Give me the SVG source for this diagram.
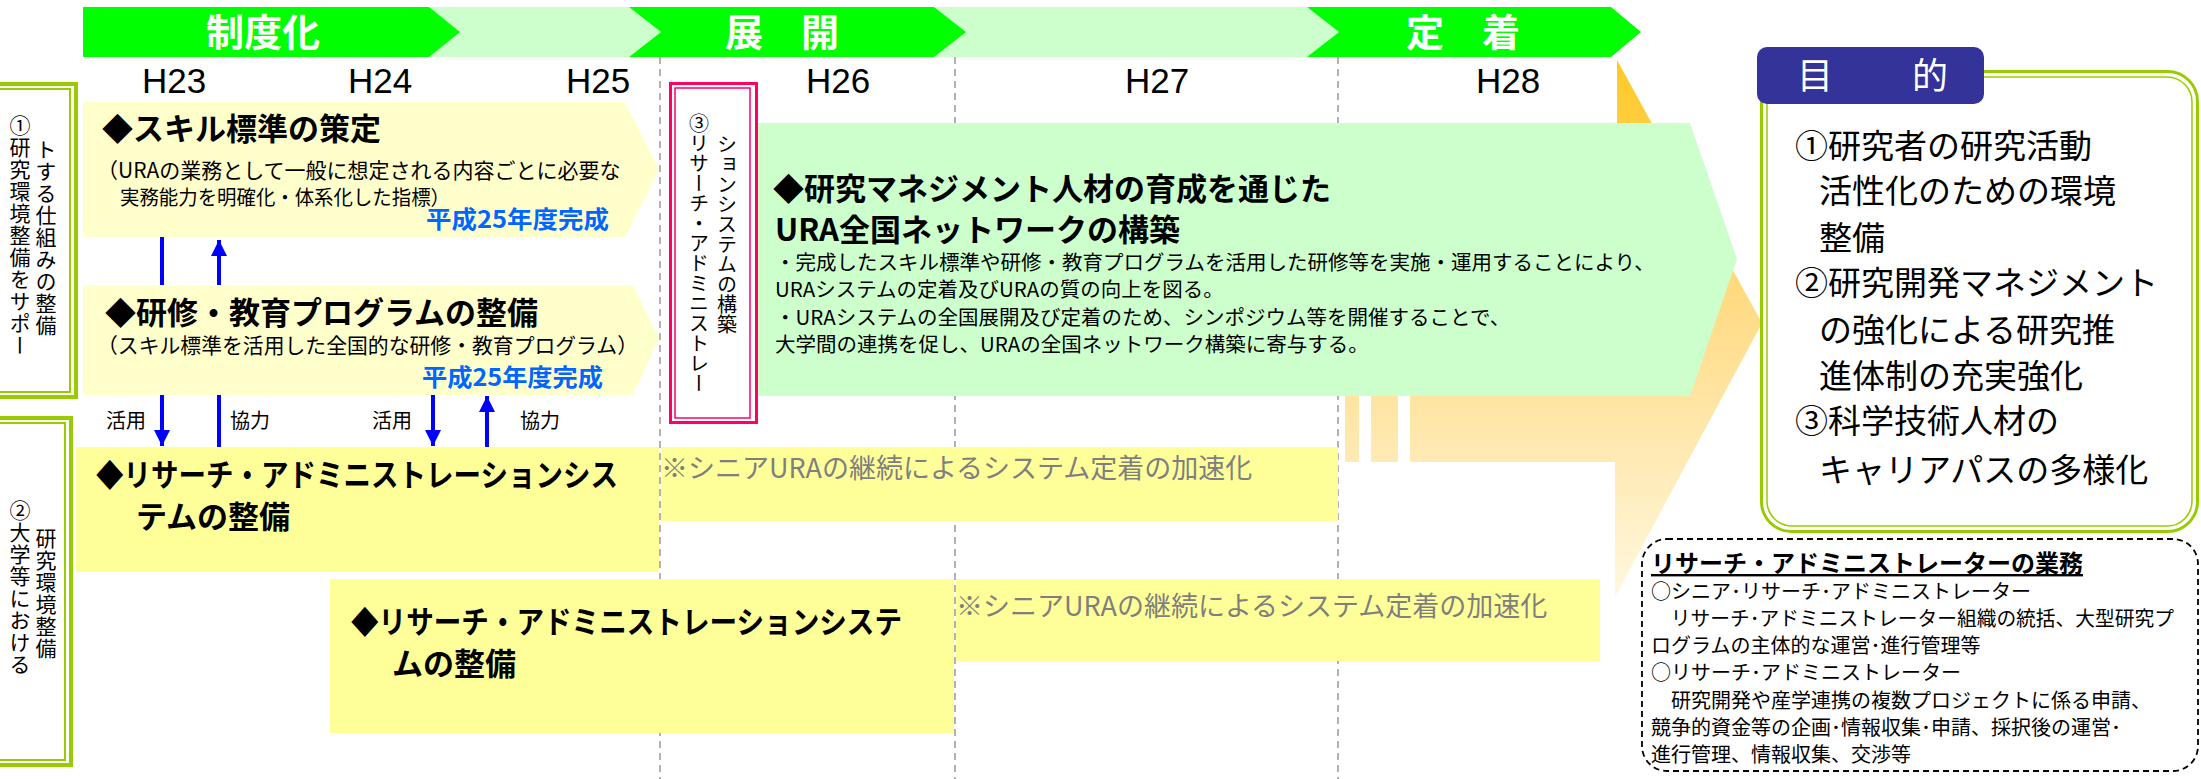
<svg xmlns="http://www.w3.org/2000/svg" width="2201" height="779" viewBox="0 0 2201 779">
<style>
.jp{font-family:"Noto Sans CJK JP","Noto Sans CJK SC",sans-serif;fill:#000;}
.b{font-weight:bold;}
.yr{font-family:"Liberation Sans",Arial,sans-serif;font-size:35px;fill:#000;text-anchor:middle;}
.ban{font-family:"Noto Sans CJK JP",sans-serif;font-weight:bold;font-size:38px;fill:#fff;text-anchor:middle;}
.dl{stroke:#999;stroke-width:1.5;stroke-dasharray:7 5;fill:none;}
.bl{stroke:#0000FF;stroke-width:4;fill:none;}
.vt{writing-mode:vertical-rl;font-family:"Noto Sans CJK JP",sans-serif;font-size:21px;letter-spacing:1px;fill:#000;}
.vt3{writing-mode:vertical-rl;font-family:"Noto Sans CJK JP",sans-serif;font-size:20px;fill:#000;}
.t31{font-size:31px;font-weight:bold;}
.t21{font-size:21px;}
.t20{font-size:20.5px;}
.done{font-size:24px;font-weight:bold;fill:#0066FF;}
.gray{font-size:27px;fill:#7F7F7F;}
.pg{font-size:33px;}
.db{font-size:20px;}
.gb{fill:none;stroke:#99CC00;}
.pk{fill:none;stroke:#FF0066;}
.ly{fill:#FFFFCC;}
.yy{fill:#FFFF99;}
.lbl{font-size:20px;}
</style>
<defs>
<linearGradient id="og" gradientUnits="userSpaceOnUse" x1="0" y1="60" x2="0" y2="600">
<stop offset="0" stop-color="#FFC926"/>
<stop offset="0.45" stop-color="#FFDB85"/>
<stop offset="1" stop-color="#FFF8E0"/>
</linearGradient>
<marker id="ah" viewBox="0 0 16 16" refX="16" refY="8" markerWidth="16" markerHeight="16" markerUnits="userSpaceOnUse" orient="auto">
<path d="M0,0 L16,8 L0,16 Z" fill="#0000FF"/>
</marker>
</defs>
<rect x="0" y="0" width="2201" height="779" fill="#fff"/>

<g id="banner">
<polygon points="429,7 629,7 661,32 629,57 429,57 460,32" fill="#CCFFCC"/>
<polygon points="934,7 1307,7 1339,32 1307,57 934,57 966,32" fill="#CCFFCC"/>
<polygon points="83,7 429,7 460,32 429,57 83,57" fill="#00FF00"/>
<polygon points="629,7 934,7 966,32 934,57 629,57 661,32" fill="#00FF00"/>
<polygon points="1307,7 1611,7 1641,32 1611,57 1307,57 1339,32" fill="#00FF00"/>
<text class="ban" x="263" y="46">制度化</text>
<text class="ban" x="782" y="46">展　開</text>
<text class="ban" x="1463" y="46">定　着</text>
</g>

<g id="years">
<text class="yr" x="174" y="93">H23</text>
<text class="yr" x="380" y="93">H24</text>
<text class="yr" x="598" y="93">H25</text>
<text class="yr" x="838" y="93">H26</text>
<text class="yr" x="1157" y="93">H27</text>
<text class="yr" x="1508" y="93">H28</text>
</g>

<g id="gridlines">
<line class="dl" x1="660" y1="57" x2="660" y2="779"/>
<line class="dl" x1="955" y1="57" x2="955" y2="779"/>
<line class="dl" x1="1338" y1="57" x2="1338" y2="779"/>
</g>

<g id="big-arrow">
<path d="M1410,200 H1617 V60 L1762,323 L1615,597 V462 H1410 Z" fill="url(#og)"/>
<rect x="1345" y="200" width="14" height="262" fill="url(#og)"/>
<rect x="1371" y="200" width="27" height="262" fill="url(#og)"/>
</g>

<g id="skill-standard">
<polygon class="ly" points="83,102 625,102 659,170 625,237 83,237"/>
<text class="jp t31" x="102" y="140">◆スキル標準の策定</text>
<text class="jp t21" x="97" y="178">（URAの業務として一般に想定される内容ごとに必要な</text>
<text class="jp" x="120" y="205" font-size="20" textLength="330" lengthAdjust="spacingAndGlyphs">実務能力を明確化・体系化した指標）</text>
<text class="jp done" x="426" y="228" textLength="183" lengthAdjust="spacingAndGlyphs">平成25年度完成</text>
</g>

<g id="training-program">
<polygon class="ly" points="83,285 633,285 659,338 633,395 83,395"/>
<text class="jp t31" x="105" y="324">◆研修・教育プログラムの整備</text>
<text class="jp t21" x="97" y="353" textLength="541" lengthAdjust="spacingAndGlyphs">（スキル標準を活用した全国的な研修・教育プログラム）</text>
<text class="jp done" x="422" y="386" textLength="181" lengthAdjust="spacingAndGlyphs">平成25年度完成</text>
</g>

<g id="ra-system-1">
<rect class="yy" x="76" y="447" width="583" height="125"/>
<rect class="yy" x="661" y="447" width="677" height="74"/>
<text class="jp t31" x="96" y="486" textLength="522" lengthAdjust="spacingAndGlyphs">◆リサーチ・アドミニストレーションシス</text>
<text class="jp t31" x="136" y="528">テムの整備</text>
<text class="jp gray" x="661" y="478">※シニアURAの継続によるシステム定着の加速化</text>
</g>

<g id="ra-system-2">
<rect class="yy" x="330" y="579" width="624" height="154"/>
<rect class="yy" x="956" y="579" width="644" height="82"/>
<text class="jp t31" x="351" y="633" textLength="551" lengthAdjust="spacingAndGlyphs">◆リサーチ・アドミニストレーションシステ</text>
<text class="jp t31" x="392" y="675">ムの整備</text>
<text class="jp gray" x="956" y="616">※シニアURAの継続によるシステム定着の加速化</text>
</g>

<g id="network">
<polygon points="758,123 1690,123 1737,259 1690,396 758,396" fill="#CCFFCC"/>
<text class="jp t31" x="773" y="200">◆研究マネジメント人材の育成を通じた</text>
<text class="jp t31" x="775" y="241">URA全国ネットワークの構築</text>
<text class="jp t20" x="775" y="270">・完成したスキル標準や研修・教育プログラムを活用した研修等を実施・運用することにより、</text>
<text class="jp t20" x="775" y="297">URAシステムの定着及びURAの質の向上を図る。</text>
<text class="jp t20" x="775" y="325">・URAシステムの全国展開及び定着のため、シンポジウム等を開催することで、</text>
<text class="jp t20" x="775" y="352">大学間の連携を促し、URAの全国ネットワーク構築に寄与する。</text>
</g>

<g id="label-3">
<rect x="670" y="83" width="87" height="340" fill="#fff"/>
<rect class="pk" x="670.5" y="83.5" width="86" height="339" stroke-width="3"/>
<rect class="pk" x="675" y="88" width="75" height="330" stroke-width="1.5"/>
<text class="vt3" x="699" y="113">③リサーチ・アドミニストレー</text>
<text class="vt3" x="727" y="134">ションシステムの構築</text>
</g>

<g id="label-1">
<rect class="gb" x="-10" y="84" width="86" height="313" stroke-width="4"/>
<rect class="gb" x="-10" y="89" width="80" height="303" stroke-width="2"/>
<text class="vt" x="20" y="115">①研究環境整備をサポー</text>
<text class="vt" x="46" y="139">トする仕組みの整備</text>
</g>

<g id="label-2">
<rect class="gb" x="-10" y="418" width="81" height="347" stroke-width="4"/>
<rect class="gb" x="-10" y="423" width="75" height="337" stroke-width="2"/>
<text class="vt" x="20" y="500">②大学等における</text>
<text class="vt" x="46" y="528">研究環境整備</text>
</g>

<g id="purpose">
<rect x="1761.5" y="71.5" width="436" height="460" rx="30" fill="#fff" class="gb" stroke-width="3"/>
<rect class="gb" x="1767" y="77" width="425" height="449" rx="25" stroke-width="1.5"/>
<rect x="1757" y="47" width="227" height="57" rx="10" fill="#333399"/>
<text class="jp" x="1797" y="89" font-size="36" style="fill:#fff" textLength="151" lengthAdjust="spacing">目　　的</text>
<text class="jp pg" x="1795" y="158">①研究者の研究活動</text>
<text class="jp pg" x="1819" y="203">活性化のための環境</text>
<text class="jp pg" x="1819" y="250">整備</text>
<text class="jp pg" x="1795" y="295">②研究開発マネジメント</text>
<text class="jp pg" x="1819" y="342">の強化による研究推</text>
<text class="jp pg" x="1819" y="388">進体制の充実強化</text>
<text class="jp pg" x="1795" y="433">③科学技術人材の</text>
<text class="jp pg" x="1819" y="482">キャリアパスの多様化</text>
</g>

<g id="ra-duties">
<rect x="1642" y="539" width="556" height="232" rx="25" fill="none" stroke="#000" stroke-width="1.8" stroke-dasharray="6 4"/>
<text class="jp b" x="1651" y="572" font-size="24" text-decoration="underline">リサーチ・アドミニストレーターの業務</text>
<text class="jp db" x="1651" y="599">○シニア･リサーチ･アドミニストレーター</text>
<text class="jp db" x="1651" y="626" textLength="523" lengthAdjust="spacingAndGlyphs">　リサーチ･アドミニストレーター組織の統括、大型研究プ</text>
<text class="jp db" x="1651" y="653">ログラムの主体的な運営･進行管理等</text>
<text class="jp db" x="1651" y="680">○リサーチ･アドミニストレーター</text>
<text class="jp db" x="1651" y="708">　研究開発や産学連携の複数プロジェクトに係る申請、</text>
<text class="jp db" x="1651" y="735">競争的資金等の企画･情報収集･申請、採択後の運営･</text>
<text class="jp db" x="1651" y="762">進行管理、情報収集、交渉等</text>
</g>

<g id="connectors">
<line class="bl" x1="162" y1="237" x2="162" y2="285"/>
<line class="bl" x1="219" y1="285" x2="219" y2="240" marker-end="url(#ah)"/>
<line class="bl" x1="162" y1="395" x2="162" y2="446" marker-end="url(#ah)"/>
<line class="bl" x1="219" y1="395" x2="219" y2="447"/>
<line class="bl" x1="433" y1="395" x2="433" y2="446" marker-end="url(#ah)"/>
<line class="bl" x1="487" y1="447" x2="487" y2="396" marker-end="url(#ah)"/>
<text class="jp lbl" x="106" y="428">活用</text>
<text class="jp lbl" x="230" y="428">協力</text>
<text class="jp lbl" x="372" y="428">活用</text>
<text class="jp lbl" x="520" y="428">協力</text>
</g>
</svg>
